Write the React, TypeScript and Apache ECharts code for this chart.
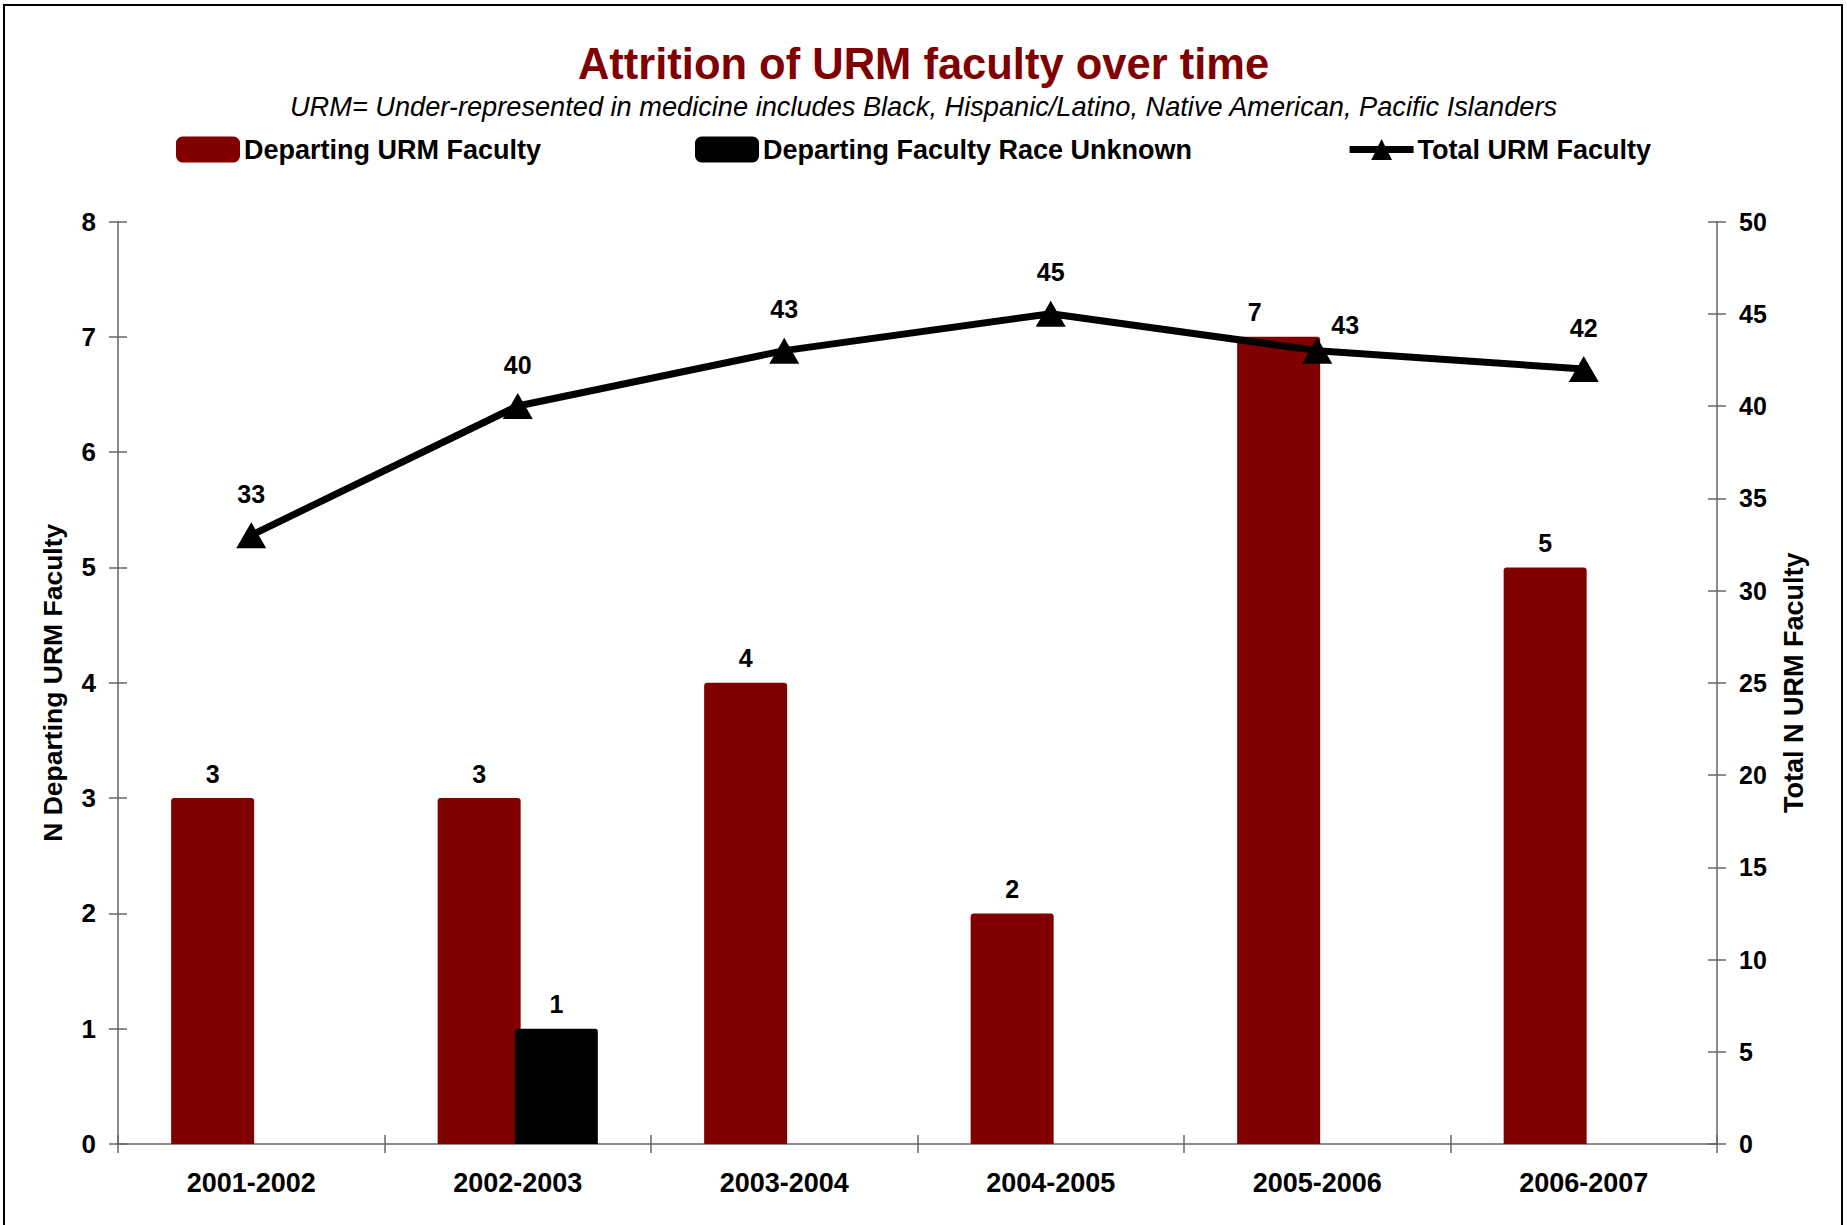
import React, { useEffect, useRef } from "react";
import * as echarts from "echarts";

const categories = ["2001-2002", "2002-2003", "2003-2004", "2004-2005", "2005-2006", "2006-2007"];
const departingURM = [3, 3, 4, 2, 7, 5];
const departingUnknown: (number | null)[] = [null, 1, null, null, null, null];
const totalURM = [33, 40, 43, 45, 43, 42];
const leftTicks = { min: 0, max: 8, interval: 1 };
const rightTicks = { min: 0, max: 50, interval: 5 };

const FONT = "'Liberation Sans', Arial, sans-serif";
const MAROON = "#800000";
const AXIS = "#666666";

// label nudges for overlapping labels (styling only)
const barLabelOffsets: Record<number, number[]> = { 4: [-24, 0] };
const lineLabelOffsets: Record<number, number[]> = { 4: [28, 16] };

export default function App() {
  const ref = useRef<HTMLDivElement>(null);
  useEffect(() => {
    if (!ref.current) return;
    const chart = echarts.init(ref.current, null, { renderer: "svg" });
    const labelStyle = { color: "#000", fontFamily: FONT, fontWeight: "bold" as const, fontSize: 25 };
    chart.setOption({
      animation: false,
      backgroundColor: "#fff",
      title: [
        {
          text: "Attrition of URM faculty over time",
          left: "center",
          top: 42,
          padding: 0,
          textStyle: { color: MAROON, fontFamily: FONT, fontWeight: "bold", fontSize: 43.5 },
        },
        {
          text: "URM= Under-represented in medicine includes Black, Hispanic/Latino, Native American, Pacific Islanders",
          left: "center",
          top: 93,
          padding: 0,
          textStyle: { color: "#000", fontFamily: FONT, fontStyle: "italic", fontWeight: "normal", fontSize: 27.2 },
        },
      ],
      legend: {
        left: 176,
        top: 136,
        padding: 0,
        itemWidth: 64,
        itemHeight: 26,
        itemGap: 154,
        lineStyle: { width: 7 },
        textStyle: { color: "#000", fontFamily: FONT, fontWeight: "bold", fontSize: 27, padding: [0, 0, 0, -1] },
        data: [
          { name: "Departing URM Faculty", icon: "roundRect" },
          { name: "Departing Faculty Race Unknown", icon: "roundRect" },
          { name: "Total URM Faculty" },
        ],
      },
      graphic: [
        {
          type: "rect",
          shape: { x: 4, y: 5, width: 1838, height: 1240 },
          style: { fill: "none", stroke: "#000", lineWidth: 2 },
          silent: true,
        },
      ],
      grid: { left: 118, right: 130, top: 221.5, bottom: 81, containLabel: false },
      xAxis: [
        {
          type: "category",
          data: categories,
          axisLine: { lineStyle: { color: AXIS, width: 1.5 } },
          axisTick: { show: true, length: 9, inside: false, lineStyle: { color: AXIS, width: 1.5 } },
          axisLabel: { ...labelStyle, fontSize: 27, margin: 25 },
          splitLine: { show: false },
        },
        {
          type: "category",
          data: categories,
          position: "bottom",
          axisLine: { show: false },
          axisTick: { show: true, length: 9, inside: true, lineStyle: { color: AXIS, width: 1.5 } },
          axisLabel: { show: false },
          splitLine: { show: false },
        },
      ],
      yAxis: [
        {
          type: "value",
          position: "left",
          ...leftTicks,
          name: "N Departing URM Faculty",
          nameLocation: "middle",
          nameRotate: 90,
          nameGap: 52,
          nameTextStyle: { ...labelStyle, fontSize: 26.5 },
          axisLine: { show: true, lineStyle: { color: AXIS, width: 1.5 } },
          axisTick: { show: true, length: 9, lineStyle: { color: AXIS, width: 1.5 } },
          axisLabel: { ...labelStyle, fontSize: 26, margin: 22 },
          splitLine: { show: false },
        },
        {
          type: "value",
          position: "right",
          ...rightTicks,
          name: "Total N URM Faculty",
          nameLocation: "middle",
          nameRotate: 90,
          nameGap: 63,
          nameTextStyle: { ...labelStyle, fontSize: 27 },
          axisLine: { show: true, lineStyle: { color: AXIS, width: 1.5 } },
          axisTick: { show: true, length: 9, lineStyle: { color: AXIS, width: 1.5 } },
          axisLabel: { ...labelStyle, margin: 22 },
          splitLine: { show: false },
        },
        {
          type: "value",
          position: "left",
          ...leftTicks,
          axisLine: { show: false },
          axisTick: { show: true, inside: true, length: 9, lineStyle: { color: AXIS, width: 1.5 } },
          axisLabel: { show: false },
          splitLine: { show: false },
        },
        {
          type: "value",
          position: "right",
          ...rightTicks,
          axisLine: { show: false },
          axisTick: { show: true, inside: true, length: 9, lineStyle: { color: AXIS, width: 1.5 } },
          axisLabel: { show: false },
          splitLine: { show: false },
        },
      ],
      series: [
        {
          name: "Departing URM Faculty",
          type: "bar",
          yAxisIndex: 0,
          barWidth: 83,
          barGap: "-7%",
          itemStyle: { color: MAROON, borderRadius: [3, 3, 0, 0] },
          label: { show: true, position: "top", distance: 12, ...labelStyle },
          data: departingURM.map((v, i) =>
            barLabelOffsets[i] ? { value: v, label: { offset: barLabelOffsets[i] } } : v
          ),
          z: 2,
        },
        {
          name: "Departing Faculty Race Unknown",
          type: "bar",
          yAxisIndex: 0,
          barWidth: 83,
          barGap: "-7%",
          itemStyle: { color: "#000", borderRadius: [3, 3, 0, 0] },
          label: { show: true, position: "top", distance: 12, ...labelStyle },
          data: departingUnknown.map((v) => (v === null ? "-" : v)),
          z: 2,
        },
        {
          name: "Total URM Faculty",
          type: "line",
          yAxisIndex: 1,
          symbol: "triangle",
          symbolSize: [30, 26],
          lineStyle: { color: "#000", width: 7 },
          itemStyle: { color: "#000" },
          label: { show: true, position: "top", distance: 16, ...labelStyle },
          data: totalURM.map((v, i) =>
            lineLabelOffsets[i] ? { value: v, label: { offset: lineLabelOffsets[i] } } : v
          ),
          z: 5,
        },
      ],
    });
    return () => chart.dispose();
  }, []);
  return (
    <div
      ref={ref}
      style={{ position: "absolute", left: 0, top: 0, width: 1847, height: 1225 }}
    />
  );
}
